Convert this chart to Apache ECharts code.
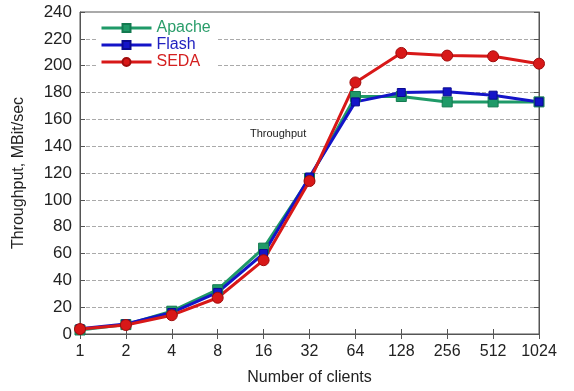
<!DOCTYPE html>
<html>
<head>
<meta charset="utf-8">
<style>
    html, body { margin: 0; padding: 0; background: #fff; }
    #chart { width: 574px; height: 391px; }
</style>
<script src="https://cdn.jsdelivr.net/npm/echarts@6/dist/echarts.min.js"></script>
</head>
<body>
<div id="chart"></div>
<script>
    // data
    var clients = ['1', '2', '4', '8', '16', '32', '64', '128', '256', '512', '1024'];
    var apache = [3, 7, 17, 33, 64, 116, 177, 177, 173, 173, 173];
    var flash = [4, 7.5, 16, 31, 60, 117, 173, 180, 180.5, 178, 173];
    var seda = [3.7, 6.7, 14, 27, 55, 114, 187.5, 209.5, 207.5, 207, 201.5];

    var font = 'Liberation Sans, Arial, sans-serif';
    var chart = echarts.init(document.getElementById('chart'));

    chart.setOption({
        animation: false,
        textStyle: { fontFamily: font },
        grid: {
            left: 80, right: 35, top: 12, bottom: 56,
            show: true, borderColor: '#555', borderWidth: 1
        },
        legend: {
            left: 96, top: 19,
            orient: 'vertical',
            itemWidth: 50, itemHeight: 10, itemGap: 1,
            backgroundColor: '#fff',
            padding: [1, 6, 1, 4],
            lineStyle: { width: 3 },
            textStyle: { fontSize: 16, fontFamily: font },
            data: [
                { name: 'Apache', textStyle: { color: '#2a9d6a' } },
                { name: 'Flash', textStyle: { color: '#2222c0' } },
                { name: 'SEDA', textStyle: { color: '#d42020' } }
            ]
        },
        graphic: [{
            type: 'text', left: 250, top: 128,
            style: { text: 'Throughput', fontSize: 11, fill: '#222', fontFamily: font }
        }],
        xAxis: [{
            type: 'category',
            data: clients,
            boundaryGap: false,
            name: 'Number of clients',
            nameLocation: 'middle',
            nameGap: 36,
            nameTextStyle: { fontSize: 16, color: '#222' },
            axisLine: { lineStyle: { color: '#555' } },
            axisTick: { inside: true, length: 5, interval: 0, lineStyle: { color: '#555' } },
            axisLabel: { fontSize: 16, color: '#222', margin: 10, interval: 0 }
        }, {
            type: 'category',
            data: clients,
            boundaryGap: false,
            position: 'top',
            axisLine: { lineStyle: { color: '#555' } },
            axisTick: { inside: true, length: 5, interval: 0, lineStyle: { color: '#555' } },
            axisLabel: { show: false }
        }],
        yAxis: [{
            type: 'value',
            min: 0, max: 240, interval: 20,
            name: 'Throughput, MBit/sec',
            nameLocation: 'middle',
            nameGap: 53,
            nameTextStyle: { fontSize: 16, color: '#222' },
            axisLine: { show: true, lineStyle: { color: '#555' } },
            axisTick: { show: true, inside: true, length: 5, lineStyle: { color: '#555' } },
            axisLabel: { fontSize: 17, color: '#222', margin: 8 },
            splitLine: { lineStyle: { type: 'dashed', color: '#aaa' } }
        }, {
            type: 'value',
            min: 0, max: 240, interval: 20,
            position: 'right',
            axisLine: { show: true, lineStyle: { color: '#555' } },
            axisTick: { show: true, inside: true, length: 5, lineStyle: { color: '#555' } },
            axisLabel: { show: false },
            splitLine: { show: false }
        }],
        series: [{
            name: 'Apache',
            type: 'line',
            data: apache,
            symbol: 'rect', symbolSize: 10,
            color: '#1f9a68',
            lineStyle: { width: 3 },
            itemStyle: { borderColor: '#137a50', borderWidth: 1 }
        }, {
            name: 'Flash',
            type: 'line',
            data: flash,
            symbol: 'rect', symbolSize: 8,
            color: '#1414c8',
            lineStyle: { width: 3 },
            itemStyle: { borderColor: '#0a0a90', borderWidth: 1 }
        }, {
            name: 'SEDA',
            type: 'line',
            data: seda,
            symbol: 'circle', symbolSize: 11,
            color: '#d81818',
            lineStyle: { width: 3 },
            itemStyle: { borderColor: '#a00c0c', borderWidth: 1 }
        }]
    });
</script>
</body>
</html>
